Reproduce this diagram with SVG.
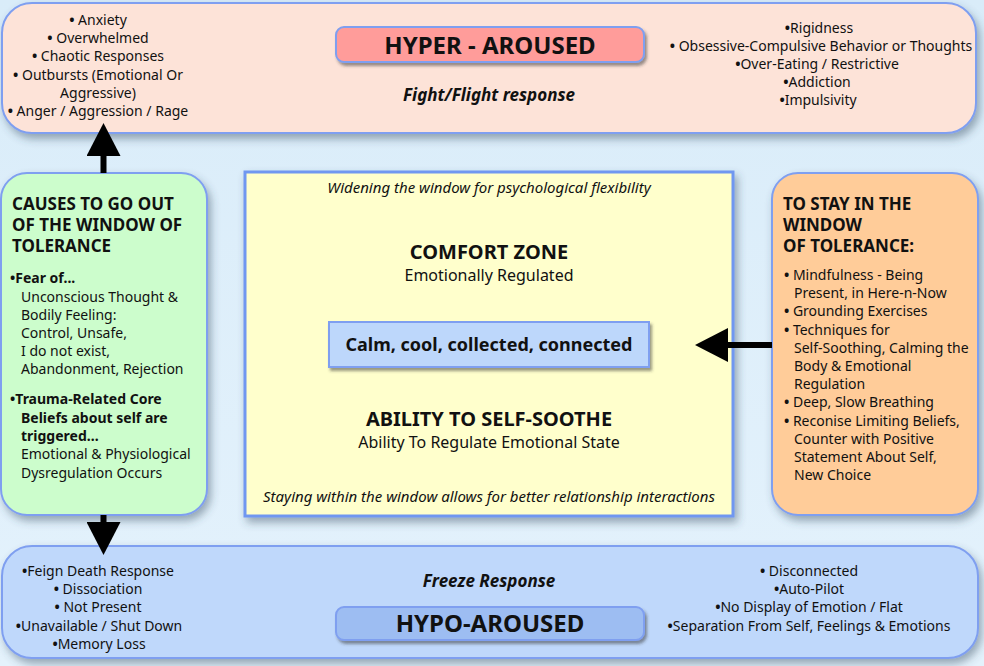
<svg xmlns="http://www.w3.org/2000/svg" width="984" height="666" viewBox="0 0 984 666">
<defs>
<linearGradient id="bg" x1="0" y1="0" x2="0" y2="1">
<stop offset="0" stop-color="#d9ecf9"/>
<stop offset="1" stop-color="#e4f2fc"/>
</linearGradient>
<filter id="sh" x="-10%" y="-10%" width="120%" height="130%">
<feDropShadow dx="3" dy="5" stdDeviation="4" flood-color="#34495e" flood-opacity="0.45"/>
</filter>
<filter id="sh2" x="-10%" y="-20%" width="120%" height="150%">
<feDropShadow dx="2" dy="3" stdDeviation="1.5" flood-color="#333" flood-opacity="0.5"/>
</filter>
<marker id="ah" viewBox="0 0 33 34" refX="0" refY="17" markerWidth="33" markerHeight="34" markerUnits="userSpaceOnUse" orient="auto">
<path d="M0,0 L33,17 L0,34 z" fill="#000"/>
</marker>
</defs>
<style>
text{font-family:"Noto Sans","Open Sans","Liberation Sans",sans-serif;fill:#111;}
.b{font-size:14px;}
.c{text-anchor:middle;}
.u{font-weight:bold;}
.h{font-size:17px;font-weight:bold;}
.t{font-size:24px;font-weight:bold;text-anchor:middle;}
.bi{font-size:17px;font-weight:bold;font-style:italic;text-anchor:middle;}
.it{font-size:15px;font-style:italic;text-anchor:middle;}
.m{font-size:20px;font-weight:bold;text-anchor:middle;}
.cm{font-size:18px;font-weight:bold;text-anchor:middle;}
.s{font-size:16px;text-anchor:middle;}
.box{stroke:#7f9ff0;stroke-width:2;}
.conn{stroke:#000;stroke-width:6;fill:none;marker-end:url(#ah);}
</style>
<rect width="984" height="666" fill="url(#bg)"/>

<g id="hyper">
<rect class="box" x="2" y="3" width="974" height="130" rx="30" fill="#fde3d8" filter="url(#sh)"/>
<rect class="box" x="336" y="27" width="308" height="35" rx="8" fill="#ff9c9a" filter="url(#sh2)"/>
<text class="t" x="490" y="54">HYPER - AROUSED</text>
<text class="bi" x="489" y="101">Fight/Flight response</text>
<text class="b c" x="98" y="25"><tspan class="u">•</tspan> Anxiety</text>
<text class="b c" x="98" y="43"><tspan class="u">•</tspan> Overwhelmed</text>
<text class="b c" x="98" y="61"><tspan class="u">•</tspan> Chaotic Responses</text>
<text class="b c" x="98" y="80"><tspan class="u">•</tspan> Outbursts (Emotional Or</text>
<text class="b c" x="98" y="98">Aggressive)</text>
<text class="b c" x="98" y="116"><tspan class="u">•</tspan> Anger / Aggression / Rage</text>
<text class="b c" x="819" y="33"><tspan class="u">•</tspan>Rigidness</text>
<text class="b c" x="821" y="51"><tspan class="u">•</tspan> Obsessive-Compulsive Behavior or Thoughts</text>
<text class="b c" x="817" y="69"><tspan class="u">•</tspan>Over-Eating / Restrictive</text>
<text class="b c" x="817" y="87"><tspan class="u">•</tspan>Addiction</text>
<text class="b c" x="818" y="105"><tspan class="u">•</tspan>Impulsivity</text>
</g>

<g id="hypo">
<rect class="box" x="2" y="546" width="976" height="112" rx="30" fill="#bfd8fb" filter="url(#sh)"/>
<text class="bi" x="489" y="587">Freeze Response</text>
<rect class="box" x="336" y="607" width="308" height="33" rx="8" fill="#9dbdf2" filter="url(#sh2)"/>
<text class="t" x="490" y="632">HYPO-AROUSED</text>
<text class="b c" x="98" y="576"><tspan class="u">•</tspan>Feign Death Response</text>
<text class="b c" x="98" y="594"><tspan class="u">•</tspan> Dissociation</text>
<text class="b c" x="98" y="612"><tspan class="u">•</tspan> Not Present</text>
<text class="b c" x="99" y="631"><tspan class="u">•</tspan>Unavailable / Shut Down</text>
<text class="b c" x="99" y="649"><tspan class="u">•</tspan>Memory Loss</text>
<text class="b c" x="809" y="576"><tspan class="u">•</tspan> Disconnected</text>
<text class="b c" x="809" y="594"><tspan class="u">•</tspan>Auto-Pilot</text>
<text class="b c" x="809" y="612"><tspan class="u">•</tspan>No Display of Emotion / Flat</text>
<text class="b c" x="809" y="631"><tspan class="u">•</tspan>Separation From Self, Feelings &amp; Emotions</text>
</g>

<g id="causes">
<rect class="box" x="1" y="173" width="206" height="342" rx="26" fill="#ccfdcc" filter="url(#sh)"/>
<text class="h" x="12" y="210">CAUSES TO GO OUT</text>
<text class="h" x="12" y="231">OF THE WINDOW OF</text>
<text class="h" x="12" y="252">TOLERANCE</text>
<text class="b" x="10" y="283" font-weight="bold">•Fear of...</text>
<text class="b" x="21" y="302">Unconscious Thought &amp;</text>
<text class="b" x="21" y="320">Bodily Feeling:</text>
<text class="b" x="21" y="338">Control, Unsafe,</text>
<text class="b" x="21" y="356">I do not exist,</text>
<text class="b" x="21" y="374">Abandonment, Rejection</text>
<text class="b" x="10" y="404" font-weight="bold">•Trauma-Related Core</text>
<text class="b" x="21" y="423" font-weight="bold">Beliefs about self are</text>
<text class="b" x="21" y="441" font-weight="bold">triggered...</text>
<text class="b" x="21" y="459">Emotional &amp; Physiological</text>
<text class="b" x="21" y="478">Dysregulation Occurs</text>
</g>

<g id="stay">
<rect class="box" x="772" y="173" width="206" height="342" rx="26" fill="#ffcc99" filter="url(#sh)"/>
<text class="h" x="783" y="210">TO STAY IN THE</text>
<text class="h" x="783" y="231">WINDOW</text>
<text class="h" x="783" y="252">OF TOLERANCE:</text>
<text class="b" x="784" y="280"><tspan class="u">•</tspan> Mindfulness - Being</text>
<text class="b" x="794" y="298">Present, in Here-n-Now</text>
<text class="b" x="784" y="316"><tspan class="u">•</tspan> Grounding Exercises</text>
<text class="b" x="784" y="335"><tspan class="u">•</tspan> Techniques for</text>
<text class="b" x="794" y="353">Self-Soothing, Calming the</text>
<text class="b" x="794" y="371">Body &amp; Emotional</text>
<text class="b" x="794" y="389">Regulation</text>
<text class="b" x="784" y="407"><tspan class="u">•</tspan> Deep, Slow Breathing</text>
<text class="b" x="784" y="426"><tspan class="u">•</tspan> Reconise Limiting Beliefs,</text>
<text class="b" x="794" y="444">Counter with Positive</text>
<text class="b" x="794" y="462">Statement About Self,</text>
<text class="b" x="794" y="480">New Choice</text>
</g>

<g id="window">
<rect x="245" y="172" width="488" height="344" fill="#ffffcc" stroke="#6f97f0" stroke-width="3" filter="url(#sh)"/>
<text class="it" x="489" y="193">Widening the window for psychological flexibility</text>
<text class="m" x="489" y="259">COMFORT ZONE</text>
<text class="s" x="489" y="281">Emotionally Regulated</text>
<text class="m" x="489" y="426">ABILITY TO SELF-SOOTHE</text>
<text class="s" x="489" y="448">Ability To Regulate Emotional State</text>
<text class="it" x="489" y="502">Staying within the window allows for better relationship interactions</text>
</g>

<g id="calm">
<rect class="box" x="329" y="322" width="320" height="45" fill="#bdd7fb" filter="url(#sh2)"/>
<text class="cm" x="489" y="351">Calm, cool, collected, connected</text>
</g>

<g id="connectors">
<line class="conn" x1="103.5" y1="173" x2="103.5" y2="156"/>
<line class="conn" x1="103.5" y1="515" x2="103.5" y2="522"/>
<line class="conn" x1="772" y1="345" x2="728" y2="345"/>
</g>
</svg>
